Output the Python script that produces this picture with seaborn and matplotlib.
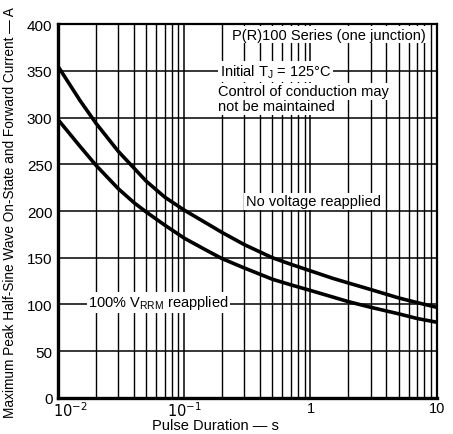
import matplotlib
matplotlib.use("Agg")
import matplotlib.pyplot as plt
import seaborn as sns
import pandas as pd
from matplotlib.ticker import LogLocator, NullFormatter, FixedLocator
from matplotlib.transforms import ScaledTranslation

sns.set_theme(style="white")
plt.rcParams['font.family'] = ['Liberation Sans', 'DejaVu Sans']

# Data
pulse_s = [0.01, 0.015, 0.02, 0.03, 0.04, 0.05, 0.07, 0.1, 0.15, 0.2, 0.3, 0.5, 0.7,
           1, 1.5, 2, 3, 5, 7, 10]
no_voltage = [355, 318, 294, 264, 246, 232, 215, 201, 187, 177, 164, 150, 143,
              136, 128, 123, 116, 107, 102, 97]
vrrm_reapplied = [298, 269, 249, 224, 209, 199, 185, 171, 158, 149, 139, 127, 121,
                  115, 108, 103, 97, 90, 85, 81]

x_ticks = [0.01, 0.1, 1, 10]
x_ticklabels = ["$10^{-2}$", "$10^{-1}$", "1", "10"]
y_ticks = [0, 50, 100, 150, 200, 250, 300, 350, 400]

df = pd.DataFrame({
    "t": pulse_s * 2,
    "I": no_voltage + vrrm_reapplied,
    "series": ["No voltage reapplied"] * len(pulse_s) + ["100% VRRM reapplied"] * len(pulse_s),
})

fig = plt.figure(figsize=(4.53, 4.35), dpi=100)
ax = fig.add_axes([0.128, 0.083, 0.836, 0.859])

ax.set_xscale("log")
ax.set_xlim(0.01, 10)
ax.set_ylim(0, 400)

# grid
ax.xaxis.set_major_locator(FixedLocator(x_ticks))
ax.xaxis.set_minor_locator(LogLocator(base=10, subs=range(2, 10)))
ax.xaxis.set_minor_formatter(NullFormatter())
ax.set_yticks(y_ticks)
ax.grid(which="major", axis="both", color="black", lw=1.1, zorder=0)
ax.grid(which="minor", axis="x", color="black", lw=1.0, zorder=0)

sns.lineplot(data=df, x="t", y="I", hue="series", palette=["black", "black"],
             legend=False, ax=ax, lw=2.6, zorder=5)

ax.set_xticklabels(x_ticklabels)
ax.tick_params(axis="both", which="both", length=0, colors="black")
ax.tick_params(axis="x", which="major", pad=2, labelsize=10.5)
ax.tick_params(axis="y", which="major", pad=4, labelsize=11)
ax.tick_params(axis="x", which="minor", length=0)

# shift the first x tick label right, as in the original
first = ax.get_xticklabels()[0]
first.set_transform(first.get_transform() + ScaledTranslation(12 / 100, 0, fig.dpi_scale_trans))

for s in ["left", "bottom"]:
    ax.spines[s].set_linewidth(2.4)
for s in ["top", "right"]:
    ax.spines[s].set_linewidth(1.6)
for s in ax.spines.values():
    s.set_color("black")

ax.set_xlabel("Pulse Duration \u2014 s", fontsize=10.5, color="black", va="center")
ax.xaxis.set_label_coords(0.415, -0.073)
ax.set_ylabel("Maximum Peak Half-Sine Wave On-State and Forward Current \u2014 A",
              fontsize=9.8, color="black")
ax.yaxis.set_label_coords(-0.108, 0.5)

box = dict(facecolor="white", edgecolor="none", pad=1.0)
tkw = dict(transform=fig.transFigure, fontsize=10.5, color="black", zorder=10, bbox=box)
fig.text(0.727, 0.918, "P(R)100 Series (one junction)", ha="center", va="center", **tkw)
fig.text(0.485, 0.834, "Initial T$_\\mathregular{J}$ = 125\u00b0C", ha="left", va="center", **tkw)
fig.text(0.482, 0.788, "Control of conduction may", ha="left", va="center", **tkw)
fig.text(0.482, 0.753, "not be maintained", ha="left", va="center", **tkw)
fig.text(0.542, 0.535, "No voltage reapplied", ha="left", va="center", **tkw)
fig.text(0.195, 0.303, "100% V$_\\mathregular{RRM}$ reapplied", ha="left", va="center", **tkw)

fig.savefig("out.png", dpi=100)
